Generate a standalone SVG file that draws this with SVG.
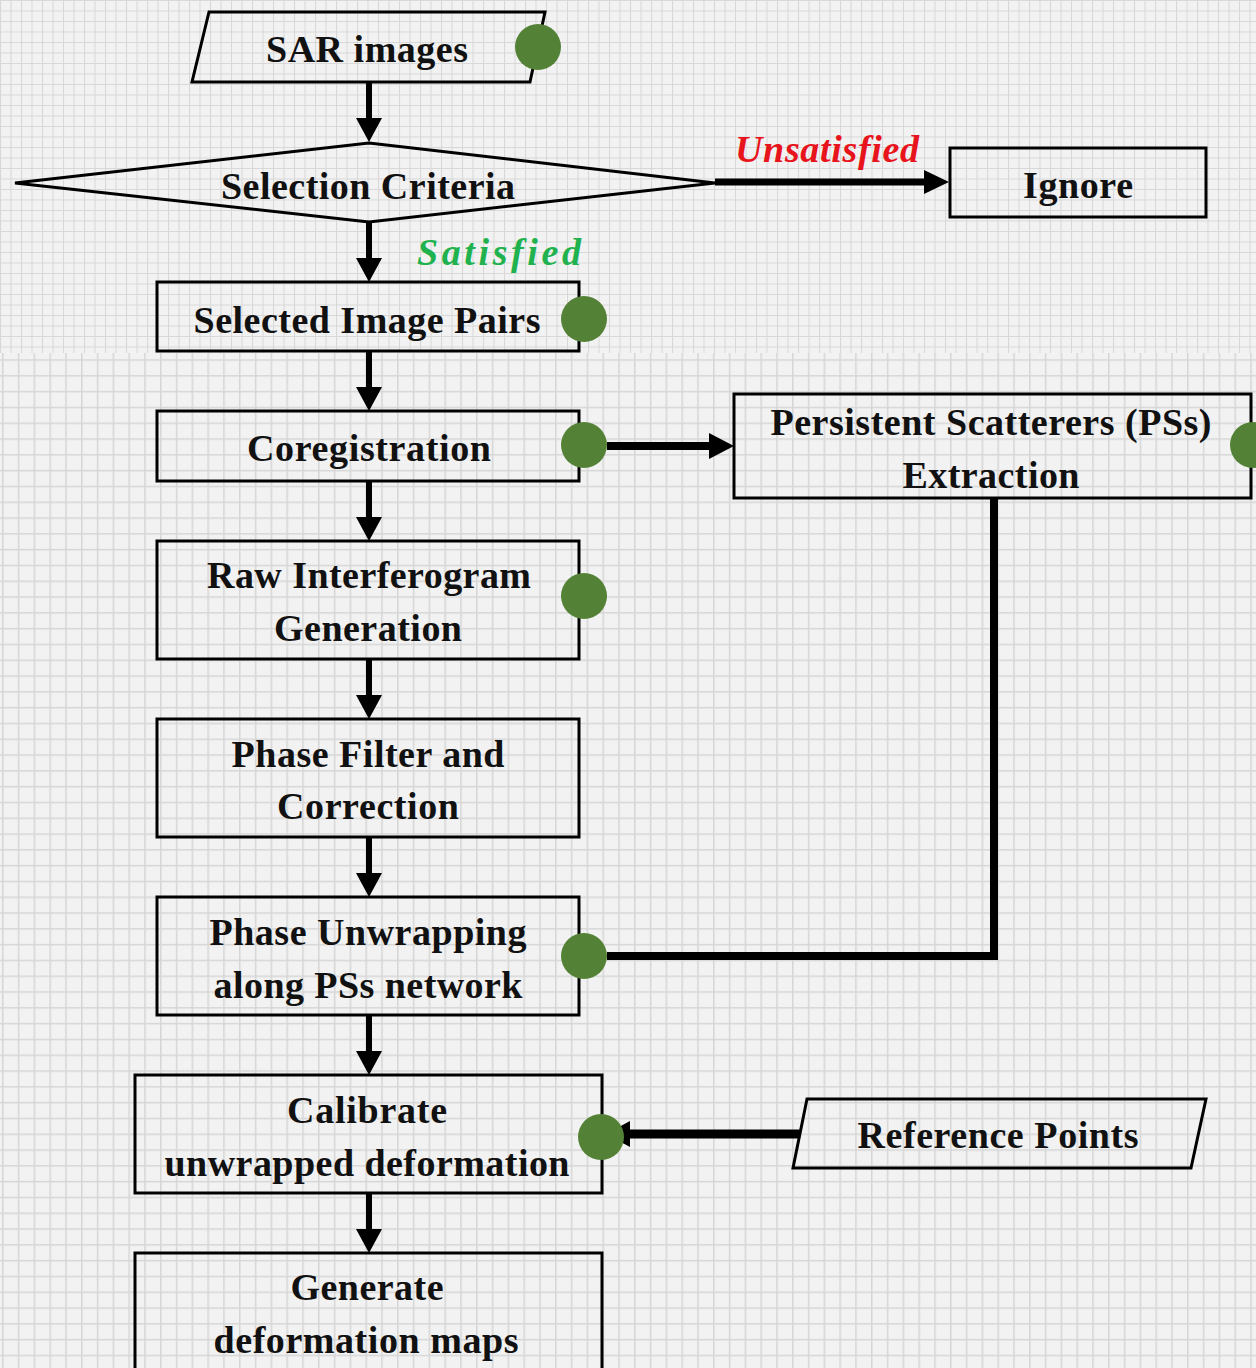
<svg xmlns="http://www.w3.org/2000/svg" width="1256" height="1368" viewBox="0 0 1256 1368">
<style>
.shape{fill:none;stroke:#000;stroke-width:3}
.lbl{font-family:"Liberation Serif","Times New Roman",serif;font-weight:bold;font-size:38px;fill:#111;text-anchor:middle}
.cond{font-weight:bold;font-size:38px;fill:#e8141c;font-style:italic;font-family:"Liberation Serif","Times New Roman",serif}
.sat{font-weight:bold;font-size:38px;fill:#1fb24e;font-style:italic;font-family:"Liberation Serif","Times New Roman",serif}
.dot{fill:#538135}
.ln{stroke:#000;fill:none}
.head{fill:#000}
</style>
<defs>
<pattern id="gridFine" patternUnits="userSpaceOnUse" x="0" y="0" width="10.5" height="10.5">
<rect width="10.5" height="10.5" fill="#f2f2f2"/>
<path d="M0,0.5 H10.5 M0.5,0 V10.5" stroke="#d7d7d7" stroke-width="1"/>
</pattern>
<pattern id="gridCoarse" patternUnits="userSpaceOnUse" x="2" y="11.7" width="15.8" height="15.8">
<rect width="15.8" height="15.8" fill="#f2f2f2"/>
<path d="M0,0.75 H15.8 M0.75,0 V15.8" stroke="#d6d6d6" stroke-width="1.5"/>
</pattern>
</defs>
<rect x="0" y="0" width="1256" height="353" fill="url(#gridFine)"/>
<rect x="0" y="353" width="1256" height="1015" fill="url(#gridCoarse)"/>

<g id="connectors">
<path class="ln" stroke-width="6" d="M369,82 V120 M369,222 V260 M369,351 V389 M369,481 V519 M369,659 V697 M369,837 V875 M369,1015 V1053 M369,1193 V1231"/>
<path class="head" d="M356,118 L382,118 L369,142 Z M356,258 L382,258 L369,282 Z M356,387 L382,387 L369,411 Z M356,517 L382,517 L369,541 Z M356,695 L382,695 L369,719 Z M356,873 L382,873 L369,897 Z M356,1051 L382,1051 L369,1075 Z M356,1229 L382,1229 L369,1253 Z"/>
<path class="ln" stroke-width="7" d="M715,182 H927"/>
<path class="head" d="M924,170 L924,194 L949,182 Z"/>
<path class="ln" stroke-width="8" d="M607,446 H712"/>
<path class="head" d="M709,433 L709,459 L734,446 Z"/>
<path class="ln" stroke-width="8" d="M994,498 V956 H607"/>
<path class="ln" stroke-width="9" d="M800,1134 H625"/>
<path class="head" d="M630,1121 L630,1147 L606,1134 Z"/>
<text class="cond" x="735" y="162" textLength="184" lengthAdjust="spacing">Unsatisfied</text>
<text class="sat" x="417" y="265" textLength="164" lengthAdjust="spacing">Satisfied</text>
</g>

<g id="sar-images">
<path class="shape" d="M209,12 L545,12 L530,82 L192,82 Z"/>
<text class="lbl" x="367" y="62" textLength="202" lengthAdjust="spacing">SAR images</text>
<circle class="dot" cx="538" cy="47" r="23"/>
</g>

<g id="selection-criteria">
<path class="shape" d="M15,183 L369,143 L715,183 L369,222 Z"/>
<text class="lbl" x="368" y="199" textLength="294" lengthAdjust="spacing">Selection Criteria</text>
</g>

<g id="ignore">
<rect class="shape" x="950" y="148" width="256" height="69"/>
<text class="lbl" x="1078" y="198" textLength="110" lengthAdjust="spacing">Ignore</text>
</g>

<g id="selected-image-pairs">
<rect class="shape" x="157" y="282" width="422" height="69"/>
<text class="lbl" x="367" y="333" textLength="347" lengthAdjust="spacing">Selected Image Pairs</text>
<circle class="dot" cx="584" cy="319" r="23"/>
</g>

<g id="coregistration">
<rect class="shape" x="157" y="411" width="422" height="70"/>
<text class="lbl" x="369" y="461" textLength="244" lengthAdjust="spacing">Coregistration</text>
<circle class="dot" cx="584" cy="445" r="23"/>
</g>

<g id="ps-extraction">
<rect class="shape" x="734" y="394" width="517" height="104"/>
<text class="lbl" x="991" y="435" textLength="441" lengthAdjust="spacing">Persistent Scatterers (PSs)</text>
<text class="lbl" x="991" y="488" textLength="177" lengthAdjust="spacing">Extraction</text>
<circle class="dot" cx="1253" cy="445" r="23"/>
</g>

<g id="raw-interferogram">
<rect class="shape" x="157" y="541" width="422" height="118"/>
<text class="lbl" x="369" y="588" textLength="324" lengthAdjust="spacing">Raw Interferogram</text>
<text class="lbl" x="368" y="641" textLength="188" lengthAdjust="spacing">Generation</text>
<circle class="dot" cx="584" cy="596" r="23"/>
</g>

<g id="phase-filter">
<rect class="shape" x="157" y="719" width="422" height="118"/>
<text class="lbl" x="368" y="767" textLength="273" lengthAdjust="spacing">Phase Filter and</text>
<text class="lbl" x="368" y="819" textLength="182" lengthAdjust="spacing">Correction</text>
</g>

<g id="phase-unwrapping">
<rect class="shape" x="157" y="897" width="422" height="118"/>
<text class="lbl" x="368" y="945" textLength="317" lengthAdjust="spacing">Phase Unwrapping</text>
<text class="lbl" x="368" y="998" textLength="309" lengthAdjust="spacing">along PSs network</text>
<circle class="dot" cx="584" cy="956" r="23"/>
</g>

<g id="calibrate">
<rect class="shape" x="135" y="1075" width="467" height="118"/>
<text class="lbl" x="367" y="1123" textLength="160" lengthAdjust="spacing">Calibrate</text>
<text class="lbl" x="367" y="1176" textLength="405" lengthAdjust="spacing">unwrapped deformation</text>
<circle class="dot" cx="601" cy="1137" r="23"/>
</g>

<g id="reference-points">
<path class="shape" d="M807,1099 L1206,1099 L1191,1168 L793,1168 Z"/>
<text class="lbl" x="998" y="1148" textLength="281" lengthAdjust="spacing">Reference Points</text>
</g>

<g id="generate-maps">
<rect class="shape" x="135" y="1253" width="467" height="130"/>
<text class="lbl" x="367" y="1300" textLength="153" lengthAdjust="spacing">Generate</text>
<text class="lbl" x="366" y="1353" textLength="305" lengthAdjust="spacing">deformation maps</text>
</g>
</svg>
